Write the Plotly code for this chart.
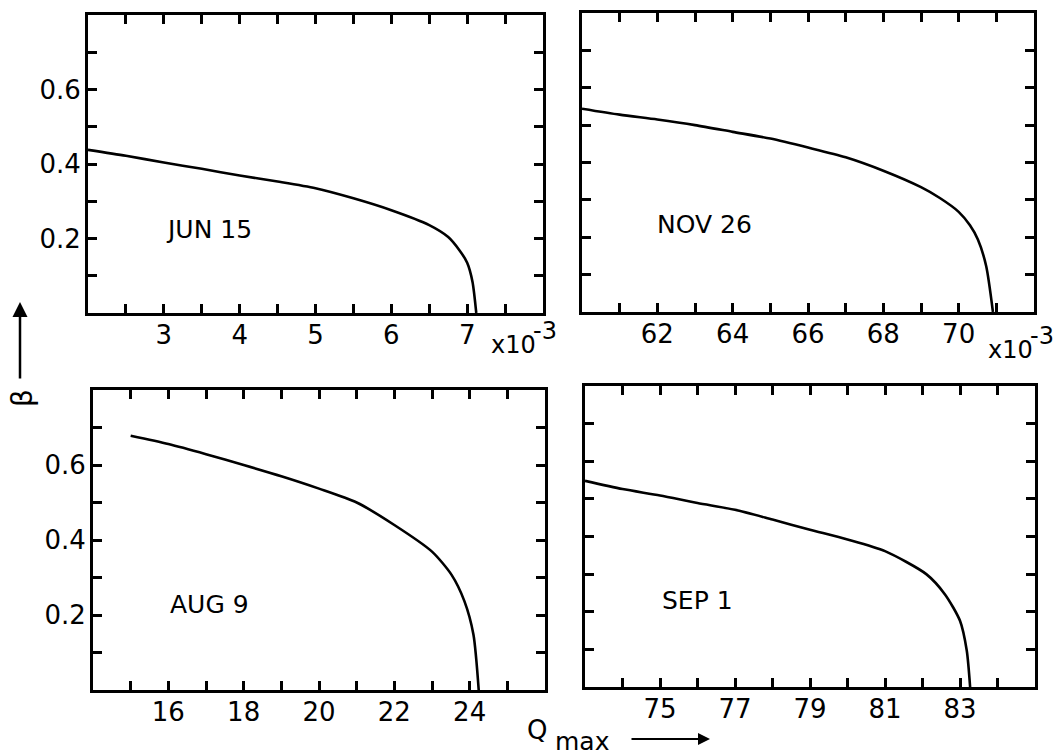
import plotly.graph_objects as go

# ---------------- data ----------------
jun_x = [2.0, 2.5, 3.0, 3.5, 4.0, 4.5, 5.0, 5.5, 6.0, 6.5, 6.75, 6.9, 7.0, 7.07, 7.12]
jun_y = [0.438, 0.422, 0.404, 0.387, 0.369, 0.353, 0.335, 0.308, 0.276, 0.236, 0.204, 0.168, 0.135, 0.084, 0.0]

nov_x = [60, 61, 62, 63, 64, 65, 66, 67, 68, 69, 69.5, 70.0, 70.3, 70.51, 70.73, 70.91]
nov_y = [0.544, 0.528, 0.515, 0.500, 0.482, 0.464, 0.440, 0.414, 0.378, 0.334, 0.305, 0.268, 0.232, 0.194, 0.123, 0.0]

aug_x = [15, 16, 17, 18, 19, 20, 21, 22, 23, 23.52, 23.86, 24.1, 24.24]
aug_y = [0.678, 0.656, 0.629, 0.600, 0.570, 0.537, 0.500, 0.440, 0.369, 0.307, 0.237, 0.148, 0.0]

sep_x = [73, 74, 75, 76, 77, 78, 79, 80, 81, 82.1, 82.6, 83.0, 83.18, 83.27]
sep_y = [0.548, 0.526, 0.509, 0.489, 0.471, 0.445, 0.418, 0.392, 0.361, 0.300, 0.246, 0.176, 0.097, 0.0]

panel_names = ["JUN 15", "NOV 26", "AUG 9", "SEP 1"]

y_tickvals = [0.1, 0.2, 0.3, 0.4, 0.5, 0.6, 0.7]
y_ticktext = ["", "0.2", "", "0.4", "", "0.6", ""]

jun_tickvals = [2.5, 3, 3.5, 4, 4.5, 5, 5.5, 6, 6.5, 7, 7.5]
jun_ticktext = ["", "3", "", "4", "", "5", "", "6", "", "7", ""]
nov_tickvals = [61, 62, 63, 64, 65, 66, 67, 68, 69, 70, 71]
nov_ticktext = ["", "62", "", "64", "", "66", "", "68", "", "70", ""]
aug_tickvals = [15, 16, 17, 18, 19, 20, 21, 22, 23, 24, 25]
aug_ticktext = ["", "16", "", "18", "", "20", "", "22", "", "24", ""]
sep_tickvals = [74, 75, 76, 77, 78, 79, 80, 81, 82, 83, 84]
sep_ticktext = ["", "75", "", "77", "", "79", "", "81", "", "83", ""]

x_ranges = [[2, 8], [60, 72], [14, 26], [73, 85]]
y_range = [0, 0.8]

# ---------------- layout geometry (paper fractions) ----------------
W, H = 1060, 755
def xd(a, b):
    return [a / W, b / W]
def yd(top, bottom):
    return [1 - bottom / H, 1 - top / H]

domains = [
    (xd(88, 543), yd(15, 313)),
    (xd(582, 1034), yd(13, 312)),
    (xd(93, 545), yd(390, 690)),
    (xd(585, 1035), yd(386, 687)),
]

FONT = "DejaVu Sans, Liberation Sans, sans-serif"
TICKFONT = dict(family=FONT, size=26, color="black")

fig = go.Figure()
series = [(jun_x, jun_y), (nov_x, nov_y), (aug_x, aug_y), (sep_x, sep_y)]
for i, (xs, ys) in enumerate(series):
    n = "" if i == 0 else str(i + 1)
    fig.add_trace(go.Scatter(x=xs, y=ys, mode="lines",
                             line=dict(color="black", width=2.6, shape="spline", smoothing=0.7),
                             xaxis="x" + n, yaxis="y" + n,
                             showlegend=False, hoverinfo="skip"))

xticks = [(jun_tickvals, jun_ticktext), (nov_tickvals, nov_ticktext),
          (aug_tickvals, aug_ticktext), (sep_tickvals, sep_ticktext)]

layout = dict(width=W, height=H, margin=dict(l=0, r=0, t=0, b=0),
              paper_bgcolor="white", plot_bgcolor="white", showlegend=False)

for i in range(4):
    n = "" if i == 0 else str(i + 1)
    xdom, ydom = domains[i]
    tv, tt = xticks[i]
    layout["xaxis" + n] = dict(
        domain=xdom, range=x_ranges[i], anchor="y" + n,
        tickmode="array", tickvals=tv, ticktext=tt,
        ticks="inside", ticklen=9, tickwidth=2.5, tickcolor="black",
        showline=True, linewidth=3, linecolor="black", mirror="ticks",
        showgrid=False, zeroline=False, tickfont=TICKFONT, fixedrange=True,
        ticklabelstandoff=-3)
    left = i in (0, 2)
    layout["yaxis" + n] = dict(
        domain=ydom, range=y_range, anchor="x" + n,
        tickmode="array", tickvals=y_tickvals,
        ticktext=y_ticktext if left else [""] * len(y_tickvals),
        ticks="inside", ticklen=9, tickwidth=2.5, tickcolor="black",
        showline=True, linewidth=3, linecolor="black", mirror="ticks",
        showgrid=False, zeroline=False, tickfont=TICKFONT, fixedrange=True,
        ticklabelstandoff=-1)

annotations = []
label_pos = [(3.0, 0.223), (61.95, 0.233), (16.0, 0.229), (75.0, 0.231)]
for i, name in enumerate(panel_names):
    n = "" if i == 0 else str(i + 1)
    annotations.append(dict(text=name, x=label_pos[i][0], y=label_pos[i][1],
                            xref="x" + n, yref="y" + n, xanchor="left", yanchor="middle",
                            showarrow=False, font=dict(family=FONT, size=25, color="black")))

# x10^-3 multipliers: "x10" plus raised "-3"
for (xl, yc, xs, ys) in [(489, 345, 531, 331), (986, 350, 1028, 336)]:
    annotations.append(dict(text="x10", x=xl / W, y=1 - yc / H,
                            xref="paper", yref="paper", xanchor="left", yanchor="middle",
                            showarrow=False, font=dict(family=FONT, size=24, color="black")))
    annotations.append(dict(text="-3", x=xs / W, y=1 - ys / H,
                            xref="paper", yref="paper", xanchor="left", yanchor="middle",
                            showarrow=False, font=dict(family=FONT, size=24, color="black")))

# Q_max label
annotations.append(dict(text="Q", x=525 / W, y=1 - 730 / H, xref="paper", yref="paper",
                        xanchor="left", yanchor="middle", showarrow=False,
                        font=dict(family=FONT, size=26, color="black")))
annotations.append(dict(text="max", x=553 / W, y=1 - 741 / H, xref="paper", yref="paper",
                        xanchor="left", yanchor="middle", showarrow=False,
                        font=dict(family=FONT, size=25, color="black")))
# arrow right of Q_max
annotations.append(dict(text="", x=710 / W, y=1 - 739 / H, xref="paper", yref="paper",
                        ax=-80, ay=0, showarrow=True, arrowhead=2, arrowsize=1.2,
                        arrowwidth=2, arrowcolor="black"))

# beta label + upward arrow
annotations.append(dict(text="β", x=22 / W, y=1 - 398 / H, xref="paper", yref="paper",
                        xanchor="center", yanchor="middle", textangle=-90, showarrow=False,
                        font=dict(family=FONT, size=28, color="black")))
annotations.append(dict(text="", x=20 / W, y=1 - 302 / H, xref="paper", yref="paper",
                        ax=0, ay=78, showarrow=True, arrowhead=2, arrowsize=1.2,
                        arrowwidth=2.5, arrowcolor="black"))

layout["annotations"] = annotations
fig.update_layout(**layout)
fig.write_html("out.html")
